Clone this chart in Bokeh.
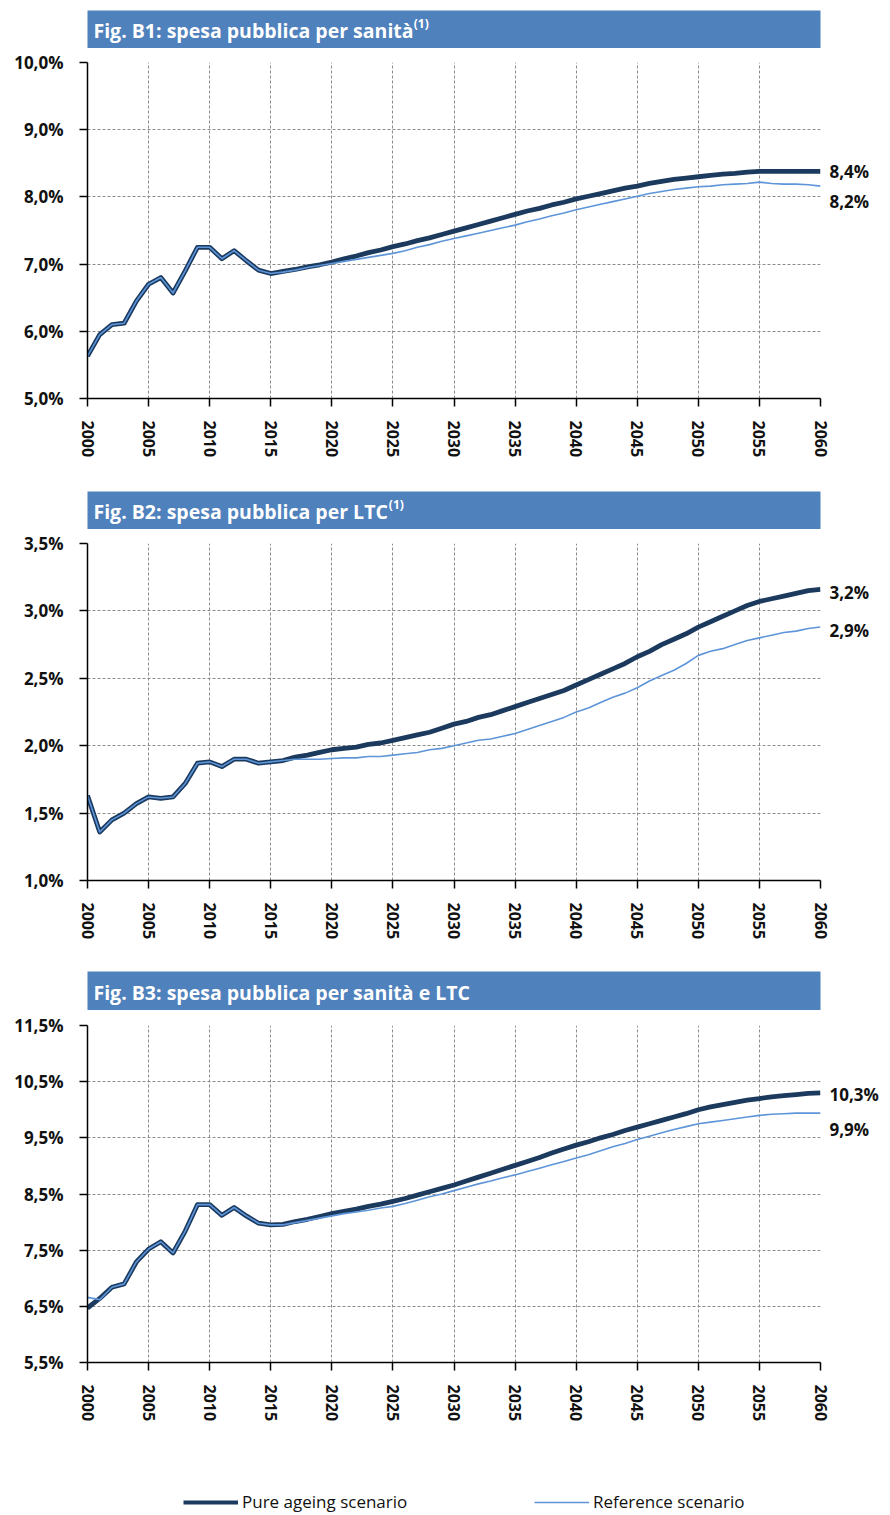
from bokeh.plotting import figure
from bokeh.models import (FixedTicker, Label, Legend, LegendItem, Range1d, LinearAxis,
                          CustomJSTickFormatter)
from bokeh.layouts import column
from bokeh.embed import file_html
from bokeh.resources import INLINE

years = list(range(2000, 2061))
x_ticks = list(range(2000, 2061, 5))

b1_pure = [5.63, 5.95, 6.10, 6.12, 6.45, 6.70, 6.80, 6.57, 6.90, 7.25,
           7.25, 7.08, 7.20, 7.05, 6.91, 6.86, 6.89, 6.92, 6.96, 6.99,
           7.03, 7.08, 7.12, 7.17, 7.21, 7.26, 7.30, 7.35, 7.39, 7.44,
           7.49, 7.54, 7.59, 7.64, 7.69, 7.74, 7.79, 7.83, 7.88, 7.92,
           7.97, 8.01, 8.05, 8.09, 8.13, 8.16, 8.20, 8.23, 8.26, 8.28,
           8.30, 8.32, 8.34, 8.35, 8.37, 8.38, 8.38, 8.38, 8.38, 8.38,
           8.38]
b1_ref = [5.63, 5.95, 6.10, 6.12, 6.45, 6.70, 6.80, 6.57, 6.90, 7.25,
          7.25, 7.08, 7.20, 7.05, 6.91, 6.86, 6.88, 6.91, 6.95, 6.98,
          7.01, 7.04, 7.07, 7.10, 7.13, 7.16, 7.20, 7.25, 7.29, 7.34,
          7.38, 7.42, 7.46, 7.50, 7.54, 7.58, 7.63, 7.67, 7.72, 7.76,
          7.81, 7.85, 7.89, 7.93, 7.97, 8.01, 8.05, 8.08, 8.11, 8.13,
          8.15, 8.16, 8.18, 8.19, 8.20, 8.22, 8.20, 8.19, 8.19, 8.18,
          8.16]

b2_pure = [1.63, 1.36, 1.45, 1.50, 1.57, 1.62, 1.61, 1.62, 1.72, 1.87,
           1.88, 1.845, 1.90, 1.90, 1.87, 1.88, 1.89, 1.915, 1.93, 1.95,
           1.97, 1.98, 1.99, 2.01, 2.02, 2.04, 2.06, 2.08, 2.10, 2.13,
           2.16, 2.18, 2.21, 2.23, 2.26, 2.29, 2.32, 2.35, 2.38, 2.41,
           2.45, 2.49, 2.53, 2.57, 2.61, 2.66, 2.70, 2.75, 2.79, 2.83,
           2.88, 2.92, 2.96, 3.00, 3.04, 3.07, 3.09, 3.11, 3.13, 3.15,
           3.16]
b2_ref = [1.63, 1.36, 1.45, 1.50, 1.57, 1.62, 1.61, 1.62, 1.72, 1.87,
          1.88, 1.845, 1.90, 1.90, 1.87, 1.88, 1.89, 1.90, 1.90, 1.90,
          1.905, 1.91, 1.91, 1.92, 1.92, 1.93, 1.94, 1.95, 1.97, 1.98,
          2.00, 2.02, 2.04, 2.05, 2.07, 2.09, 2.12, 2.15, 2.18, 2.21,
          2.25, 2.28, 2.32, 2.36, 2.39, 2.43, 2.48, 2.52, 2.56, 2.61,
          2.67, 2.70, 2.72, 2.75, 2.78, 2.80, 2.82, 2.84, 2.85, 2.87,
          2.88]

b3_pure = [6.47, 6.64, 6.84, 6.90, 7.29, 7.52, 7.65, 7.45, 7.84, 8.31,
           8.31, 8.12, 8.26, 8.11, 7.98, 7.95, 7.96, 8.01, 8.05, 8.10,
           8.15, 8.19, 8.23, 8.28, 8.32, 8.37, 8.42, 8.48, 8.54, 8.60,
           8.66, 8.73, 8.80, 8.87, 8.94, 9.01, 9.08, 9.15, 9.23, 9.30,
           9.37, 9.43, 9.50, 9.56, 9.63, 9.69, 9.75, 9.81, 9.87, 9.93,
           10.00, 10.05, 10.09, 10.13, 10.17, 10.20, 10.23, 10.25, 10.27, 10.29,
           10.30]
b3_ref = [6.66, 6.62, 6.84, 6.90, 7.29, 7.52, 7.65, 7.45, 7.84, 8.31,
          8.31, 8.12, 8.26, 8.11, 7.98, 7.95, 7.95, 7.99, 8.03, 8.07,
          8.11, 8.15, 8.18, 8.21, 8.25, 8.28, 8.33, 8.39, 8.45, 8.50,
          8.56, 8.62, 8.68, 8.73, 8.79, 8.84, 8.90, 8.96, 9.02, 9.08,
          9.14, 9.20, 9.27, 9.34, 9.40, 9.47, 9.53, 9.59, 9.65, 9.70,
          9.75, 9.78, 9.81, 9.84, 9.87, 9.90, 9.92, 9.93, 9.94, 9.94,
          9.94]

titles = ["Fig. B1: spesa pubblica per sanità",
          "Fig. B2: spesa pubblica per LTC",
          "Fig. B3: spesa pubblica per sanità e LTC"]
title_sups = ["(1)", "(1)", ""]
y_bounds = [(5.0, 10.0), (1.0, 3.5), (5.5, 11.5)]
y_tick_sets = [[5.0, 6.0, 7.0, 8.0, 9.0, 10.0],
               [1.0, 1.5, 2.0, 2.5, 3.0, 3.5],
               [5.5, 6.5, 7.5, 8.5, 9.5, 10.5, 11.5]]
series_names = ["Pure ageing scenario", "Reference scenario"]

FONT = "Open Sans"
BAR = "#4F81BD"
PURE_C = "#1B3A5E"
REF_C = "#5E95D9"
GRID_C = "#8C8C8C"
W = 890
PLOT_L = 87       # frame left edge
PLOT_R = 70       # space right of frame
BAR_L = 86
BAR_R = 67

for arr in (b1_pure, b1_ref, b2_pure, b2_ref, b3_pure, b3_ref):
    assert len(arr) == len(years)


def title_fig(text, sup, sup_x, height, top):
    fw = W - BAR_L - BAR_R
    fh = height - top
    f = figure(width=W, height=height, x_range=Range1d(0, fw), y_range=Range1d(0, fh),
               toolbar_location=None, output_backend="svg",
               x_axis_location=None, y_axis_location=None,
               min_border_left=BAR_L, min_border_right=BAR_R, min_border_top=top, min_border_bottom=0)
    f.background_fill_color = BAR
    f.border_fill_color = "white"
    f.outline_line_color = None
    f.grid.visible = False
    hh = fh / 2.0
    f.add_layout(Label(x=6, y=hh - 1, text=text, text_font=FONT, text_font_size="19.5px",
                       text_font_style="bold", text_color="white", text_baseline="middle"))
    if sup:
        f.add_layout(Label(x=sup_x, y=hh + 6, text=sup, text_font=FONT, text_font_size="12px",
                           text_font_style="bold", text_color="white", text_baseline="middle"))
    return f


def panel(pure, ref, ybounds, yticks, height, top, bottom, dys):
    p = figure(width=W, height=height, x_range=Range1d(2000, 2060), y_range=Range1d(*ybounds),
               toolbar_location=None, output_backend="svg",
               min_border_left=PLOT_L, min_border_right=PLOT_R, min_border_top=top,
               min_border_bottom=bottom)
    p.outline_line_color = None
    p.background_fill_color = "white"
    p.border_fill_color = "white"
    p.xaxis.ticker = FixedTicker(ticks=x_ticks)
    p.yaxis.ticker = FixedTicker(ticks=yticks)
    p.yaxis.formatter = CustomJSTickFormatter(code="return tick.toFixed(1).replace('.', ',') + '%';")
    for ax in (p.xaxis[0], p.yaxis[0]):
        ax.axis_line_color = "black"
        ax.axis_line_width = 1.5
        ax.major_tick_line_color = "black"
        ax.major_tick_line_width = 1.5
        ax.major_tick_in = 0
        ax.major_tick_out = 8
        ax.minor_tick_line_color = None
        ax.major_label_text_font = FONT
        ax.major_label_text_font_style = "bold"
        ax.major_label_text_color = "#111111"
    p.yaxis.major_label_text_font_size = "17px"
    p.yaxis.major_label_standoff = 16
    p.xaxis.major_label_text_font_size = "16px"
    p.xaxis.major_label_orientation = "vertical"
    p.xaxis.major_label_standoff = 14
    p.xgrid.ticker = FixedTicker(ticks=x_ticks)
    p.ygrid.ticker = FixedTicker(ticks=yticks)
    for g in (p.xgrid[0], p.ygrid[0]):
        g.grid_line_color = GRID_C
        g.grid_line_dash = "3 2"
        g.grid_line_width = 1
    p.line(years, pure, line_color=PURE_C, line_width=4.8, line_join="round")
    p.line(years, ref, line_color=REF_C, line_width=1.6, line_join="round")

    # end-of-series value labels, drawn as a label-only axis on the right
    frame_h = height - top - bottom
    per_px = (ybounds[1] - ybounds[0]) / frame_h
    ends = [pure[-1], ref[-1]]
    pos = [v + dy * per_px for v, dy in zip(ends, dys)]
    texts = [f"{v:.1f}".replace(".", ",") + "%" for v in ends]
    rax = LinearAxis(ticker=FixedTicker(ticks=pos),
                     formatter=CustomJSTickFormatter(
                         args=dict(pos=pos, texts=texts),
                         code="let b = 0; for (let i = 1; i < pos.length; i++) {"
                              " if (Math.abs(pos[i] - tick) < Math.abs(pos[b] - tick)) b = i; }"
                              " return texts[b];"))
    rax.axis_line_color = None
    rax.major_tick_line_color = None
    rax.minor_tick_line_color = None
    rax.major_tick_in = 0
    rax.major_tick_out = 0
    rax.major_label_standoff = 9
    rax.major_label_text_font = FONT
    rax.major_label_text_font_size = "17px"
    rax.major_label_text_font_style = "bold"
    rax.major_label_text_color = "#111111"
    p.add_layout(rax, "right")
    return p


t1 = title_fig(titles[0], title_sups[0], 6 + 322, 48, 10)
p1 = panel(b1_pure, b1_ref, y_bounds[0], y_tick_sets[0], 442, 14, 92, [0, -15])
t2 = title_fig(titles[1], title_sups[1], 6 + 297, 39, 1)
p2 = panel(b2_pure, b2_ref, y_bounds[1], y_tick_sets[1], 441, 14, 90, [-3, -3])
t3 = title_fig(titles[2], title_sups[2], 0, 40, 1)
p3 = panel(b3_pure, b3_ref, y_bounds[2], y_tick_sets[2], 450, 15, 98, [-2, -16])

# legend strip
lg = figure(width=W, height=55, x_range=Range1d(0, 1), y_range=Range1d(0, 1),
            toolbar_location=None, output_backend="svg",
            x_axis_location=None, y_axis_location=None,
            min_border_left=PLOT_L, min_border_right=PLOT_R, min_border_top=0, min_border_bottom=0)
lg.outline_line_color = None
lg.grid.visible = False
r_pure = lg.line([-5, -4], [-5, -4], line_color=PURE_C, line_width=4)
r_ref = lg.line([-5, -4], [-5, -4], line_color=REF_C, line_width=1.6)
for r, name, xloc in ((r_pure, series_names[0], 183 - PLOT_L), (r_ref, series_names[1], 534 - PLOT_L)):
    leg = Legend(items=[LegendItem(label=name, renderers=[r])], location=(xloc, 2),
                 orientation="horizontal", glyph_width=55, glyph_height=16, label_standoff=4,
                 padding=0, margin=0, border_line_color=None, background_fill_alpha=0,
                 label_text_font=FONT, label_text_font_size="17px", label_text_color="#111111")
    lg.add_layout(leg)

layout = column(t1, p1, t2, p2, t3, p3, lg, spacing=0)
open("out.html", "w").write(file_html(layout, INLINE))
